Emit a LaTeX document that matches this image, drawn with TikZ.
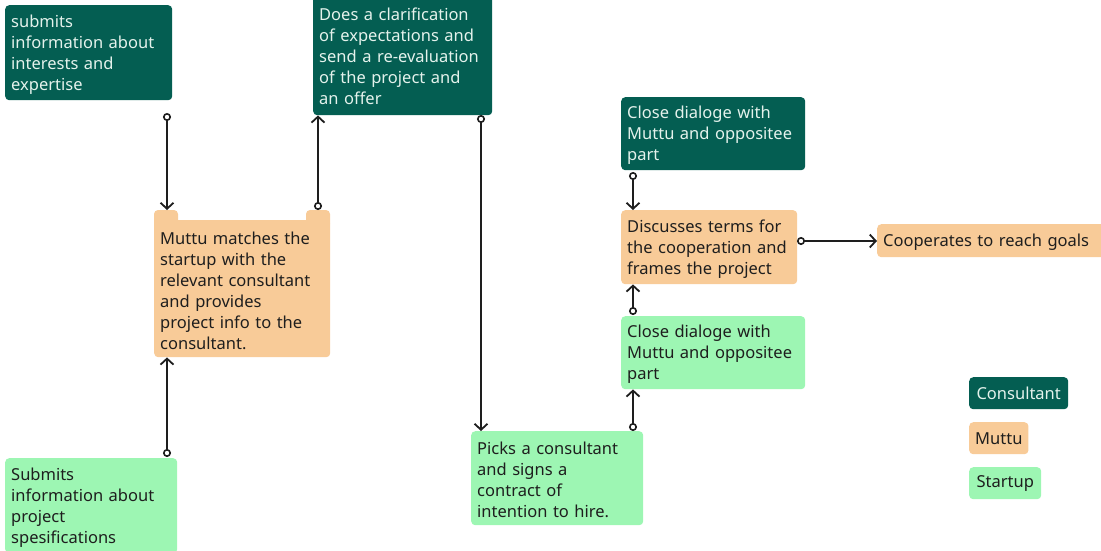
\documentclass[tikz,border=0pt]{standalone}
\usepackage{fontspec}
\setmainfont{Noto Sans}
\usetikzlibrary{arrows.meta,positioning,calc}
\definecolor{consC}{HTML}{045E52}
\definecolor{consT}{HTML}{E4F2EC}
\definecolor{muttuC}{HTML}{F8CB98}
\definecolor{startC}{HTML}{9DF6B3}
\definecolor{inkC}{HTML}{1E1E1E}
\begin{document}
\begin{tikzpicture}[x=1pt,y=-1pt,
  box/.style={anchor=north west,rounded corners=4pt,inner xsep=6pt,inner ysep=0pt,align=left,
    font=\fontsize{16.5}{21}\selectfont},
  mbox/.style={box,execute at begin node={\rule{0pt}{16pt}}},
  cons/.style={mbox,fill=consC,text=consT},
  mutt/.style={mbox,fill=muttuC,text=inkC},
  start/.style={mbox,fill=startC,text=inkC},
  lcons/.style={box,fill=consC,text=consT},
  lmutt/.style={box,fill=muttuC,text=inkC},
  lstart/.style={box,fill=startC,text=inkC},
  conn/.style={draw=inkC,line width=1.9pt,{Circle[open,length=8pt,width=8pt,line width=1.6pt]}-{Straight Barb[length=6pt,width=13pt,line width=1.8pt]}}
]
\useasboundingbox (0,0) rectangle (1101,550);
% boxes
\node[cons,minimum width=167pt,minimum height=95pt,text width=155pt] (c1) at (5,5) {submits\\information about\\interests and\\expertise};
\node[cons,minimum width=179pt,minimum height=121pt,text width=167pt] (c2) at (313,-6) {Does a clarification\\of expectations and\\send a re-evaluation\\of the project and\\an offer};
\fill[muttuC,rounded corners=4pt] (154,210) rectangle (178,228);
\fill[muttuC,rounded corners=4pt] (306,210) rectangle (330,228);
\node[mutt,minimum width=176pt,minimum height=137pt,text width=164pt] (m1) at (154,220) {Muttu matches the\\startup with the\\relevant consultant\\and provides\\project info to the\\consultant.};
\node[start,minimum width=172pt,minimum height=95pt,text width=160pt] (s1) at (5,458) {Submits\\information about\\project\\spesifications};
\node[start,minimum width=172pt,minimum height=94pt,text width=160pt] (s2) at (471,431) {Picks a consultant\\and signs a\\contract of\\intention to hire.};
\node[cons,minimum width=184pt,minimum height=73pt,text width=172pt] (c3) at (621,97) {Close dialoge with\\Muttu and oppositee\\part};
\node[mutt,minimum width=176pt,minimum height=74pt,text width=164pt] (m2) at (621,210) {Discusses terms for\\the cooperation and\\frames the project};
\node[start,minimum width=184pt,minimum height=73pt,text width=172pt] (s3) at (621,316) {Close dialoge with\\Muttu and oppositee\\part};
\node[mutt,minimum width=230pt,minimum height=33pt,text width=218pt] (m3) at (877,224) {Cooperates to reach goals};
% legend
\node[lcons,minimum width=99pt,minimum height=32pt] (l1) at (969,377) {Consultant};
\node[lmutt,minimum width=59pt,minimum height=32pt] (l2) at (969,422) {Muttu};
\node[lstart,minimum width=72pt,minimum height=32pt] (l3) at (969,467) {Startup};
% connectors
\coordinate (a1) at (167,113);
\draw[conn] (a1) -- (167,210);
\coordinate (a2) at (318,210);
\draw[conn] (a2) -- (a2 |- c2.south);
\coordinate (a3) at (481,115);
\draw[conn] (a3) -- (a3 |- s2.north);
\coordinate (a4) at (167,457);
\draw[conn] (a4) -- (a4 |- m1.south);
\coordinate (a5) at (633,431);
\draw[conn] (a5) -- (a5 |- s3.south);
\coordinate (a6) at (633,315);
\draw[conn] (a6) -- (a6 |- m2.south);
\coordinate (a7) at (633,172);
\draw[conn] (a7) -- (a7 |- m2.north);
\coordinate (a8) at (797,241);
\draw[conn] (a8) -- (a8 -| m3.west);
\end{tikzpicture}
\end{document}
